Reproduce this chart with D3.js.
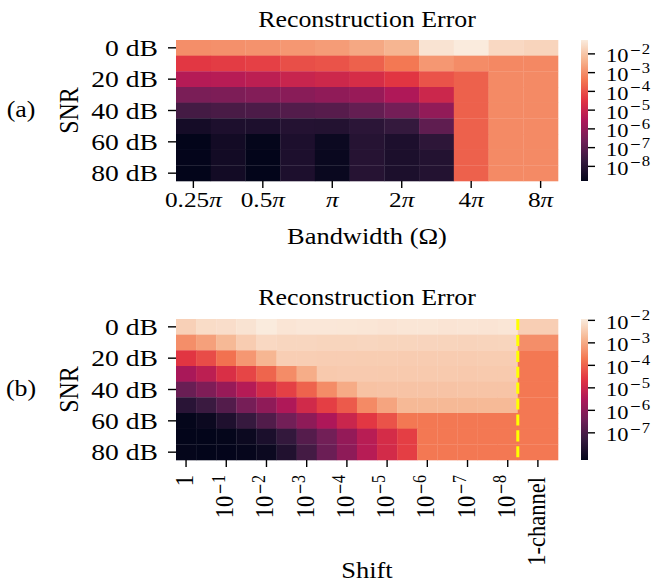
<!DOCTYPE html>
<html>
<head>
<meta charset="utf-8">
<script src="https://cdn.jsdelivr.net/npm/d3@7"></script>
<style>
  html, body { margin: 0; padding: 0; background: #fff; }
  svg { display: block; }
</style>
</head>
<body>
<svg id="fig" width="653" height="584"></svg>
<script>
// ---------- data ----------
// SNR levels (dB), one per heatmap row
const snrLevels = [0, 10, 20, 30, 40, 50, 60, 70, 80];
const snrTickLevels = [0, 20, 40, 60, 80];

// Panel (a): bandwidth Ω in multiples of π (one column each)
const bandwidths = [0.25, 0.354, 0.5, 0.707, 1, 1.414, 2, 2.828, 4, 5.657, 8];
const bandwidthTickValues = [0.25, 0.5, 1, 2, 4, 8];
const bandwidthTickLabels = ["0.25", "0.5", "", "2", "4", "8"]; // coefficient of π

// reconstruction error, rows = SNR, columns = bandwidth
const errorBandwidth = [
  [1.0e-3, 1.1e-3, 1.2e-3, 1.45e-3, 1.75e-3, 2.9e-3, 4.9e-3, 3.9e-2, 5.5e-2, 2.3e-2, 1.95e-2],
  [3.8e-5, 4.6e-5, 5.4e-5, 9.1e-5, 1.07e-4, 1.8e-4, 4.3e-4, 1.45e-3, 9.3e-4, 7.9e-4, 7.9e-4],
  [4.0e-6, 4.4e-6, 5.6e-6, 9.5e-6, 1.23e-5, 1.9e-5, 3.5e-5, 1.07e-4, 1.8e-4, 8.7e-4, 8.7e-4],
  [3.5e-7, 3.9e-7, 5.0e-7, 6.5e-7, 8.5e-7, 1.2e-6, 3.1e-6, 1.15e-5, 1.8e-4, 8.7e-4, 8.7e-4],
  [3.7e-8, 4.5e-8, 5.2e-8, 6.9e-8, 8.1e-8, 1.4e-7, 2.75e-7, 9.1e-7, 1.8e-4, 8.7e-4, 8.7e-4],
  [4.0e-9, 6.0e-9, 6.0e-9, 8.5e-9, 7.9e-9, 1.2e-8, 1.86e-8, 1.15e-7, 1.8e-4, 8.7e-4, 8.7e-4],
  [1.66e-9, 3.6e-9, 1.8e-9, 6.0e-9, 2.6e-9, 9.3e-9, 6.0e-9, 1.3e-8, 1.8e-4, 8.7e-4, 8.7e-4],
  [1.75e-9, 3.6e-9, 1.66e-9, 6.0e-9, 2.35e-9, 9.3e-9, 5.6e-9, 7.9e-9, 1.8e-4, 8.7e-4, 8.7e-4],
  [1.7e-9, 3.6e-9, 1.66e-9, 6.0e-9, 2.35e-9, 9.3e-9, 5.6e-9, 7.9e-9, 1.8e-4, 8.7e-4, 8.7e-4]
];
const colorbarExponentsA = [-8, -7, -6, -5, -4, -3, -2];

// Panel (b): shift as a power of ten (one column each), plus the 1-channel reference
const shiftExponents = [0, -0.5, -1, -1.5, -2, -2.5, -3, -3.5, -4, -4.5, -5, -5.5, -6, -6.5, -7, -7.5, -8];
const shiftTickExponents = [0, -1, -2, -3, -4, -5, -6, -7, -8];
const oneChannelLabel = "1-channel";

// reconstruction error, rows = SNR, columns = shift
const errorShift = [
  [4.2e-3, 6.5e-3, 6.9e-3, 8.5e-3, 1.15e-2, 9.3e-3, 1.0e-2, 1.0e-2, 9.8e-3, 9.6e-3, 9.0e-3, 9.5e-3, 9.5e-3, 9.0e-3, 9.3e-3, 9.0e-3, 9.6e-3],
  [4.2e-4, 7.4e-4, 1.74e-3, 3.6e-3, 5.6e-3, 5.2e-3, 5.2e-3, 5.0e-3, 5.0e-3, 5.2e-3, 5.0e-3, 5.0e-3, 4.9e-3, 4.8e-3, 4.7e-3, 4.8e-3, 5.0e-3],
  [2.5e-5, 5.1e-5, 1.6e-4, 5.5e-4, 1.6e-3, 3.9e-3, 3.9e-3, 3.8e-3, 3.8e-3, 3.7e-3, 3.7e-3, 3.6e-3, 3.6e-3, 3.6e-3, 3.6e-3, 3.7e-3, 3.7e-3],
  [2.6e-6, 5.5e-6, 1.7e-5, 4.1e-5, 1.1e-4, 3.9e-4, 1.15e-3, 3.2e-3, 3.4e-3, 3.4e-3, 3.3e-3, 3.3e-3, 3.3e-3, 3.3e-3, 3.2e-3, 3.3e-3, 3.3e-3],
  [3.0e-7, 6.3e-7, 1.5e-6, 4.1e-6, 1.3e-5, 3.5e-5, 1.05e-4, 3.9e-4, 1.07e-3, 2.5e-3, 2.6e-3, 2.6e-3, 2.6e-3, 2.6e-3, 2.7e-3, 2.7e-3, 2.7e-3],
  [3.0e-8, 5.8e-8, 1.4e-7, 4.7e-7, 1.1e-6, 3.3e-6, 1.2e-5, 3.3e-5, 7.9e-5, 3.6e-4, 8.5e-4, 1.74e-3, 1.74e-3, 1.74e-3, 1.74e-3, 1.8e-3, 1.8e-3],
  [6.6e-9, 8.9e-9, 1.95e-8, 5.0e-8, 1.3e-7, 4.1e-7, 1.05e-6, 3.1e-6, 9.1e-6, 2.7e-5, 6.3e-5, 2.0e-4, 2.0e-4, 2.0e-4, 2.0e-4, 2.0e-4, 2.0e-4],
  [6.2e-9, 6.3e-9, 6.6e-9, 8.9e-9, 1.7e-8, 4.4e-8, 1.5e-7, 4.1e-7, 1.3e-6, 4.7e-6, 1.4e-5, 3.3e-5, 2.0e-4, 2.0e-4, 2.0e-4, 2.0e-4, 2.0e-4],
  [6.6e-9, 6.2e-9, 6.4e-9, 7.1e-9, 8.9e-9, 2.1e-8, 8.3e-8, 3.2e-7, 1.05e-6, 4.4e-6, 1.3e-5, 3.3e-5, 2.0e-4, 2.0e-4, 2.0e-4, 2.0e-4, 2.0e-4]
];
const errorOneChannel = [3.9e-3, 4.2e-4, 2.0e-4, 2.0e-4, 2.0e-4, 2.0e-4, 2.0e-4, 2.0e-4, 2.0e-4];
const colorbarExponentsB = [-7, -6, -5, -4, -3, -2];

// "rocket" colour ramp, dark to light
const rocketStops = ["#03051a", "#35193e", "#701f57", "#ad1759", "#e13342", "#f37651", "#f6b48f", "#faebdd"];

// ---------- helpers ----------
const svg = d3.select("#fig");
const FONT = "Liberation Serif";
const MINUS_FONT = "DejaVu Sans";
const SX = 1.15; // lettering is set slightly wide

const rocket = d3.scaleLinear()
  .domain(rocketStops.map((_, i) => i / (rocketStops.length - 1)))
  .range(rocketStops)
  .interpolate(d3.interpolateRgb)
  .clamp(true);

function logColor(extent) {
  const t = d3.scaleLog().domain(extent).range([0, 1]).clamp(true);
  return v => rocket(t(v));
}

function addText(parent, x, y, content, opt = {}) {
  const size = opt.size || 22;
  const t = parent.append("text")
    .attr("transform", `translate(${x},${y}) scale(${SX},1)` + (opt.rotate ? ` rotate(${opt.rotate})` : ""))
    .attr("font-family", FONT)
    .attr("font-size", size)
    .attr("text-anchor", opt.anchor || "start")
    .attr("fill", "#000");
  if (typeof content === "function") content(t); else t.text(content);
  return t;
}

// 10 with a raised negative exponent
function powerOfTen(exp, supSize, minusSize, lift) {
  return t => {
    if (exp === 0) { t.text("1"); return; }
    t.append("tspan").text("10");
    t.append("tspan").attr("font-family", MINUS_FONT).attr("font-size", minusSize)
      .attr("dy", -lift).attr("dx", 1).text("\u2212");
    t.append("tspan").attr("font-size", supSize).attr("dx", 0.5).text(String(Math.abs(exp)));
  };
}

function piLabel(coef) {
  return t => {
    if (coef) t.append("tspan").text(coef);
    t.append("tspan").attr("font-style", "italic").text("\u03C0");
  };
}

function tickLine(parent, x1, y1, x2, y2) {
  parent.append("line")
    .attr("x1", x1).attr("y1", y1).attr("x2", x2).attr("y2", y2)
    .attr("stroke", "#000").attr("stroke-width", 1.4);
}

function snrAxis(g, y, left) {
  snrTickLevels.forEach(s => {
    const cy = y(s) + y.bandwidth() / 2;
    tickLine(g, left - 8, cy, left, cy);
    addText(g, left - 18, cy + 8.3, `${s} dB`, { size: 24, anchor: "end" });
  });
}

function colorbar(g, id, extent, exponents, y0, y1, left) {
  const width = 7;
  const grad = svg.append("defs").append("linearGradient")
    .attr("id", id).attr("x1", 0).attr("y1", 1).attr("x2", 0).attr("y2", 0);
  d3.range(0, 1.0001, 0.02).forEach(t => {
    grad.append("stop").attr("offset", t).attr("stop-color", rocket(t));
  });
  g.append("rect").attr("x", left).attr("y", y0).attr("width", width).attr("height", y1 - y0)
    .attr("fill", `url(#${id})`);
  const yc = d3.scaleLog().domain(extent).range([y1, y0]);
  exponents.forEach(e => {
    const ty = yc(Math.pow(10, e));
    tickLine(g, left + width, ty, left + width + 7, ty);
    addText(g, left + width + 18, ty + 8.4, powerOfTen(e, 14.5, 12, 8.4), { size: 19.5 });
  });
}

// ---------- shared layout ----------
const X0 = 176, X1 = 558;
const CB_X = 581;

// ---------- panel (a) ----------
{
  const top = 40, bottom = 181;
  const g = svg.append("g");
  const x = d3.scaleBand().domain(bandwidths).range([X0, X1]);
  const y = d3.scaleBand().domain(snrLevels).range([top, bottom]);
  const extent = d3.extent(errorBandwidth.flat());
  const color = logColor(extent);

  const cells = [];
  snrLevels.forEach((s, r) => bandwidths.forEach((b, c) => cells.push({ s, b, v: errorBandwidth[r][c] })));
  g.selectAll("rect.cell").data(cells).join("rect").attr("class", "cell")
    .attr("x", d => x(d.b)).attr("y", d => y(d.s))
    .attr("width", x.bandwidth() + 0.3).attr("height", y.bandwidth() + 0.3)
    .attr("fill", d => color(d.v));

  addText(g, (X0 + X1) / 2, 27, "Reconstruction Error", { size: 22.5, anchor: "middle" });
  snrAxis(g, y, X0);
  bandwidthTickValues.forEach((b, i) => {
    const cx = x(b) + x.bandwidth() / 2;
    tickLine(g, cx, bottom, cx, bottom + 7);
    addText(g, cx, 207, piLabel(bandwidthTickLabels[i]), { size: 22, anchor: "middle" });
  });
  addText(g, (X0 + X1) / 2, 244, "Bandwidth (\u03A9)", { size: 23, anchor: "middle" });
  addText(g, 78, (top + bottom) / 2, "SNR", { size: 24, anchor: "middle", rotate: -90 });
  addText(g, 21, 116.5, "(a)", { size: 22.5, anchor: "middle" });

  colorbar(g, "cbA", extent, colorbarExponentsA, top, bottom, CB_X);
}

// ---------- panel (b) ----------
{
  const top = 319, bottom = 460;
  const g = svg.append("g");
  // column slots: one per shift, two for the 1-channel reference
  const nSlots = shiftExponents.length + 2;
  const x = d3.scaleLinear().domain([0, nSlots]).range([X0, X1]);
  const y = d3.scaleBand().domain(snrLevels).range([top, bottom]);
  const extent = d3.extent(errorShift.flat().concat(errorOneChannel));
  const color = logColor(extent);

  const cells = [];
  snrLevels.forEach((s, r) => {
    shiftExponents.forEach((e, c) => cells.push({ s, a: c, b: c + 1, v: errorShift[r][c] }));
    cells.push({ s, a: shiftExponents.length, b: nSlots, v: errorOneChannel[r] });
  });
  g.selectAll("rect.cell").data(cells).join("rect").attr("class", "cell")
    .attr("x", d => x(d.a)).attr("y", d => y(d.s))
    .attr("width", d => x(d.b) - x(d.a) + 0.3).attr("height", y.bandwidth() + 0.3)
    .attr("fill", d => color(d.v));

  // separator between shifted pairs and the single-channel reference
  const sepX = x(shiftExponents.length);
  g.append("line")
    .attr("x1", sepX).attr("x2", sepX).attr("y1", top).attr("y2", bottom)
    .attr("stroke", "#ffff00").attr("stroke-width", 3)
    .attr("stroke-dasharray", "11.1,4.8");

  addText(g, (X0 + X1) / 2, 305, "Reconstruction Error", { size: 22.5, anchor: "middle" });
  snrAxis(g, y, X0);

  shiftTickExponents.forEach(e => {
    const idx = shiftExponents.indexOf(e);
    const cx = x(idx + 0.5);
    tickLine(g, cx, bottom, cx, bottom + 7);
    addText(g, cx + 7, 475, powerOfTen(e, 16, 13.5, 7.5), { size: 22.5, anchor: "end", rotate: -90 });
  });
  const ocx = x(shiftExponents.length + 1);
  tickLine(g, ocx, bottom, ocx, bottom + 7);
  addText(g, ocx + 7.5, 477, oneChannelLabel, { size: 22.5, anchor: "end", rotate: -90 });

  addText(g, (X0 + X1) / 2, 578, "Shift", { size: 23, anchor: "middle" });
  addText(g, 78, (top + bottom) / 2, "SNR", { size: 24, anchor: "middle", rotate: -90 });
  addText(g, 21, 395.5, "(b)", { size: 22.5, anchor: "middle" });

  colorbar(g, "cbB", extent, colorbarExponentsB, top, bottom, CB_X);
}
</script>
</body>
</html>
